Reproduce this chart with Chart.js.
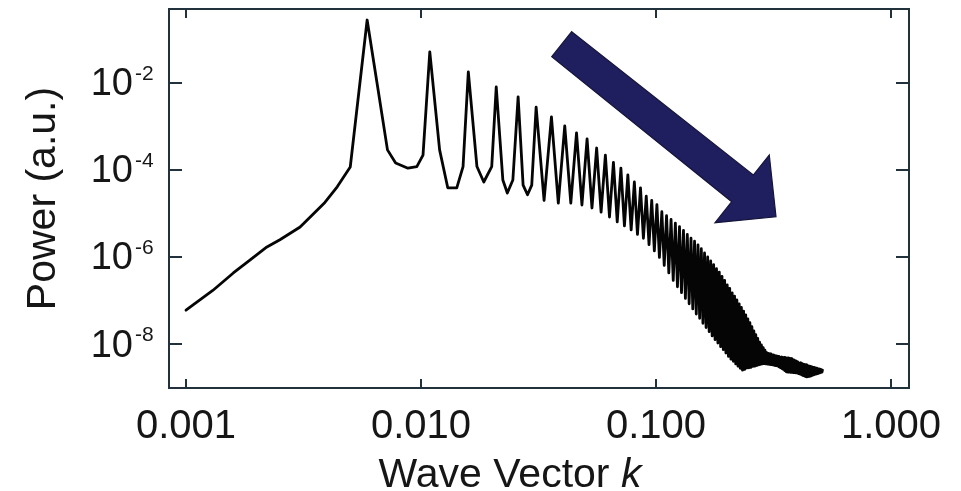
<!DOCTYPE html>
<html><head><meta charset="utf-8">
<script src="https://cdn.jsdelivr.net/npm/chart.js@4.4.0/dist/chart.umd.min.js"></script>
<style>html,body{margin:0;padding:0;background:#fff;} #wrap{width:961px;height:491px;position:relative;}</style>
</head><body><div id="wrap"><canvas id="c" width="961" height="491"></canvas></div>
<script>
// Wave vector k (x) and power (y)
const waveVector = [
  0.0010, 0.0013, 0.00159, 0.00187, 0.00221, 0.00251, 0.00306, 0.0039, 0.0044, 0.0050,
  0.0059, 0.0065, 0.0072, 0.0078, 0.0088, 0.0096, 0.0102, 0.0109, 0.0120, 0.0130,
  0.0142, 0.0151, 0.0159, 0.0173, 0.0185, 0.0200, 0.0209, 0.0223, 0.0233, 0.0246,
  0.0259, 0.0272, 0.0284, 0.0296, 0.0309,
  0.0334, 0.0359, 0.0384, 0.0409, 0.0434, 0.0459, 0.0484, 0.0509, 0.0534, 0.0559,
  0.0584, 0.0609, 0.0634, 0.0659, 0.0684, 0.0709, 0.0734, 0.0759, 0.0784, 0.0809,
  0.0834, 0.0859, 0.0884, 0.0909, 0.0934, 0.0959, 0.0984, 0.1009, 0.1034, 0.1059,
  0.1084, 0.1109, 0.1134, 0.1159, 0.1184, 0.1209, 0.1234, 0.1259, 0.1284, 0.1309,
  0.1334, 0.1359, 0.1384, 0.1409, 0.1434, 0.1459, 0.1484, 0.1509, 0.1534, 0.1559,
  0.1584, 0.1609, 0.1634, 0.1659, 0.1684, 0.1709, 0.1734, 0.1759, 0.1784, 0.1809,
  0.1834, 0.1859, 0.1884, 0.1909, 0.1934, 0.1959, 0.1984, 0.2009, 0.2034, 0.2059,
  0.2084, 0.2109, 0.2134, 0.2159, 0.2184, 0.2209, 0.2234, 0.2259, 0.2284, 0.2309,
  0.2334, 0.2359, 0.2384, 0.2409, 0.2434, 0.2459, 0.2484, 0.2509, 0.2534, 0.2559,
  0.2584, 0.2609, 0.2634, 0.2659, 0.2684, 0.2709, 0.2734, 0.2759, 0.2784, 0.2809,
  0.2834, 0.2859, 0.2884, 0.2909, 0.2934, 0.2959, 0.2984, 0.3009, 0.3034, 0.3059,
  0.3084, 0.3109, 0.3134, 0.3159, 0.3184, 0.3209, 0.3234, 0.3259, 0.3284, 0.3309,
  0.3334, 0.3359, 0.3384, 0.3409, 0.3434, 0.3459, 0.3484, 0.3509, 0.3534, 0.3559,
  0.3584, 0.3609, 0.3634, 0.3659, 0.3684, 0.3709, 0.3734, 0.3759, 0.3784, 0.3809,
  0.3834, 0.3859, 0.3884, 0.3909, 0.3934, 0.3959, 0.3984, 0.4009, 0.4034, 0.4059,
  0.4084, 0.4109, 0.4134, 0.4159, 0.4184, 0.4209, 0.4234, 0.4259, 0.4284, 0.4309,
  0.4334, 0.4359, 0.4384, 0.4409, 0.4434, 0.4459, 0.4484, 0.4509, 0.4534, 0.4559,
  0.4584, 0.4609, 0.4634, 0.4659, 0.4684, 0.4709, 0.4734, 0.4759, 0.4784, 0.4809,
  0.4834, 0.4859, 0.4884, 0.4909, 0.4934, 0.4959, 0.4984, 0.5009, 0.5034, 0.5059,
  0.5084, 0.5109
];
const power = [
  6.0e-8, 1.7e-7, 4.3e-7, 8.5e-7, 1.7e-6, 2.5e-6, 4.9e-6, 1.8e-5, 4.1e-5, 1.17e-4,
  0.28, 1.0e-2, 2.9e-4, 1.45e-4, 1.1e-4, 1.2e-4, 2.2e-4, 0.052, 2.9e-4, 3.9e-5,
  3.9e-5, 1.2e-4, 0.018, 1.2e-4, 5.3e-5, 1.2e-4, 8.1e-3, 5.9e-5, 2.95e-5, 5.9e-5,
  4.8e-3, 4.5e-5, 2.7e-5, 4.5e-5, 2.8e-3,
  2.0e-5, 1.66e-3, 1.74e-5, 1.03e-3, 1.74e-5, 7.1e-4, 1.57e-5, 5.2e-4, 1.34e-5, 3.2e-4,
  1.08e-5, 2.2e-4, 8.3e-6, 1.5e-4, 6.4e-6, 1.1e-4, 5.2e-6, 7.7e-5, 4.2e-6, 5.3e-5,
  3.3e-6, 3.9e-5, 2.7e-6, 2.5e-5, 1.93e-6, 2.0e-5, 1.38e-6, 1.6e-5, 9.8e-7, 1.1e-5,
  6.4e-7, 8.9e-6, 4.3e-7, 7.3e-6, 2.9e-7, 6.0e-6, 2.07e-7, 5.0e-6, 1.52e-7, 4.1e-6,
  1.12e-7, 3.3e-6, 8.4e-8, 2.7e-6, 6.4e-8, 2.3e-6, 4.9e-8, 1.9e-6, 3.9e-8, 1.55e-6,
  3.0e-8, 1.24e-6, 2.4e-8, 1.0e-6, 1.92e-8, 8.1e-7, 1.54e-8, 6.7e-7, 1.26e-8, 5.4e-7,
  1.05e-8, 4.5e-7, 8.7e-9, 3.6e-7, 7.4e-9, 2.9e-7, 6.2e-9, 2.3e-7, 5.2e-9, 1.9e-7,
  4.5e-9, 1.5e-7, 4.0e-9, 1.26e-7, 3.5e-9, 1.03e-7, 3.1e-9, 8.4e-8, 2.76e-9, 6.9e-8,
  2.5e-9, 5.7e-8, 2.6e-9, 4.7e-8, 2.8e-9, 3.8e-8, 2.85e-9, 3.1e-8, 2.9e-9, 2.5e-8,
  3.05e-9, 2.0e-8, 3.1e-9, 1.64e-8, 3.2e-9, 1.35e-8, 3.3e-9, 1.1e-8, 3.4e-9, 9.5e-9,
  3.5e-9, 8.3e-9, 3.55e-9, 7.2e-9, 3.5e-9, 6.3e-9, 3.45e-9, 6.1e-9, 3.4e-9, 5.9e-9,
  3.35e-9, 5.7e-9, 3.3e-9, 5.6e-9, 3.25e-9, 5.4e-9, 3.2e-9, 5.3e-9, 3.15e-9, 5.2e-9,
  3.0e-9, 5.0e-9, 2.87e-9, 5.0e-9, 2.74e-9, 4.9e-9, 2.6e-9, 4.9e-9, 2.45e-9, 4.8e-9,
  2.3e-9, 4.8e-9, 2.27e-9, 4.8e-9, 2.25e-9, 4.7e-9, 2.24e-9, 4.6e-9, 2.22e-9, 4.4e-9,
  2.2e-9, 4.3e-9, 2.19e-9, 4.1e-9, 2.17e-9, 4.0e-9, 2.16e-9, 3.9e-9, 2.1e-9, 3.7e-9,
  2.05e-9, 3.66e-9, 2.0e-9, 3.6e-9, 1.94e-9, 3.5e-9, 1.88e-9, 3.4e-9, 1.84e-9, 3.3e-9,
  1.79e-9, 3.3e-9, 1.75e-9, 3.2e-9, 1.78e-9, 3.1e-9, 1.81e-9, 3.1e-9, 1.84e-9, 3.0e-9,
  1.88e-9, 2.97e-9, 1.92e-9, 2.9e-9, 1.95e-9, 2.86e-9, 2.0e-9, 2.8e-9, 2.03e-9, 2.77e-9,
  2.07e-9, 2.7e-9, 2.1e-9, 2.66e-9, 2.15e-9, 2.63e-9, 2.18e-9, 2.6e-9, 2.22e-9, 2.55e-9,
  2.27e-9, 2.5e-9
];

const xTickValues = [0.001, 0.01, 0.1, 1];
const xTickLabels = ['0.001', '0.010', '0.100', '1.000'];
const yTickValues = [1e-2, 1e-4, 1e-6, 1e-8];
const yTickBase = ['10', '10', '10', '10'];
const yTickExp = ['-2', '-4', '-6', '-8'];
const xTitleText = 'Wave Vector ';
const xTitleVar = 'k';
const yTitleText = 'Power (a.u.)';

// Annotation arrow (data coordinates: k, power)
const arrowK = [0.04378, 0.2594, 0.3034, 0.3241, 0.1783, 0.2100, 0.0360];
const arrowP = [0.151, 7.67e-5, 2.21e-4, 8.43e-6, 6.15e-6, 1.87e-5, 0.0403];

const FONT = '"Liberation Sans", Arial, Helvetica, sans-serif';
const TEXT = '#161616';
const FRAME = '#22323c';

const decor = {
  id: 'decor',
  afterDraw(chart) {
    const {ctx, chartArea: a, scales: {x, y}} = chart;
    ctx.save();
    // arrow
    ctx.beginPath();
    arrowK.forEach((k, i) => {
      const px = x.getPixelForValue(k), py = y.getPixelForValue(arrowP[i]);
      if (i) ctx.lineTo(px, py); else ctx.moveTo(px, py);
    });
    ctx.closePath();
    ctx.fillStyle = '#1f1e5e';
    ctx.fill();
    ctx.lineWidth = 1.2;
    ctx.strokeStyle = '#15143a';
    ctx.lineJoin = 'miter';
    ctx.stroke();

    // frame
    ctx.strokeStyle = FRAME;
    ctx.lineWidth = 2;
    ctx.strokeRect(a.left, a.top, a.right - a.left, a.bottom - a.top);
    // inward ticks
    ctx.beginPath();
    xTickValues.forEach(v => {
      const px = Math.round(x.getPixelForValue(v));
      ctx.moveTo(px, a.bottom); ctx.lineTo(px, a.bottom - 9);
      ctx.moveTo(px, a.top); ctx.lineTo(px, a.top + 9);
    });
    yTickValues.forEach(v => {
      const py = Math.round(y.getPixelForValue(v));
      ctx.moveTo(a.left, py); ctx.lineTo(a.left + 13, py);
      ctx.moveTo(a.right, py); ctx.lineTo(a.right - 13, py);
    });
    ctx.stroke();

    // y tick labels 10^n
    ctx.fillStyle = TEXT;
    ctx.textBaseline = 'middle';
    yTickValues.forEach((v, i) => {
      const py = y.getPixelForValue(v);
      ctx.font = '38px ' + FONT;
      ctx.textAlign = 'right';
      ctx.fillText(yTickBase[i], a.left - 36, py + 2);
      ctx.font = '21px ' + FONT;
      ctx.textAlign = 'left';
      ctx.fillText(yTickExp[i], a.left - 34, py - 9);
    });

    // y title
    ctx.save();
    ctx.translate(55, (a.top + a.bottom) / 2);
    ctx.rotate(-Math.PI / 2);
    ctx.font = '41px ' + FONT;
    ctx.textAlign = 'center';
    ctx.textBaseline = 'alphabetic';
    ctx.fillText(yTitleText, 0, 0);
    ctx.restore();

    // x title
    ctx.font = '41px ' + FONT;
    const w1 = ctx.measureText(xTitleText).width;
    ctx.font = 'italic 41px ' + FONT;
    const w2 = ctx.measureText(xTitleVar).width;
    const cx = a.left + 341;
    const x0 = cx - (w1 + w2) / 2;
    ctx.textAlign = 'left';
    ctx.textBaseline = 'alphabetic';
    ctx.font = '41px ' + FONT;
    ctx.fillText(xTitleText, x0, 487);
    ctx.font = 'italic 41px ' + FONT;
    ctx.fillText(xTitleVar, x0 + w1, 487);
    ctx.restore();
  }
};

new Chart(document.getElementById('c'), {
  type: 'line',
  data: {
    datasets: [{
      label: 'Power',
      data: waveVector.map((k, i) => ({x: k, y: power[i]})),
      borderColor: '#050505',
      borderWidth: 2.8,
      pointRadius: 0,
      tension: 0,
      borderJoinStyle: 'round',
      borderCapStyle: 'round',
      fill: false
    }]
  },
  options: {
    responsive: false,
    animation: false,
    devicePixelRatio: 1,
    layout: {padding: {left: 0, right: 52, top: 9, bottom: 0}},
    plugins: {legend: {display: false}, tooltip: {enabled: false}},
    scales: {
      x: {
        type: 'logarithmic',
        position: 'bottom',
        min: 8.466e-4,
        max: 1.193,
        grid: {display: false, drawTicks: false, tickLength: 0},
        border: {display: false},
        afterBuildTicks: s => { s.ticks = xTickValues.map(v => ({value: v})); },
        afterFit: s => { s.height = 103; },
        ticks: {
          autoSkip: false,
          maxRotation: 0,
          padding: 15,
          color: TEXT,
          font: {family: FONT, size: 40},
          callback: (v) => { const i = xTickValues.indexOf(v); return i >= 0 ? xTickLabels[i] : ''; }
        }
      },
      y: {
        type: 'logarithmic',
        position: 'left',
        min: 9.75e-10,
        max: 0.502,
        grid: {display: false, drawTicks: false, tickLength: 0},
        border: {display: false},
        afterBuildTicks: s => { s.ticks = yTickValues.map(v => ({value: v})); },
        afterFit: s => { s.width = 169; },
        ticks: {display: false}
      }
    }
  },
  plugins: [decor]
});
</script>
</body></html>
